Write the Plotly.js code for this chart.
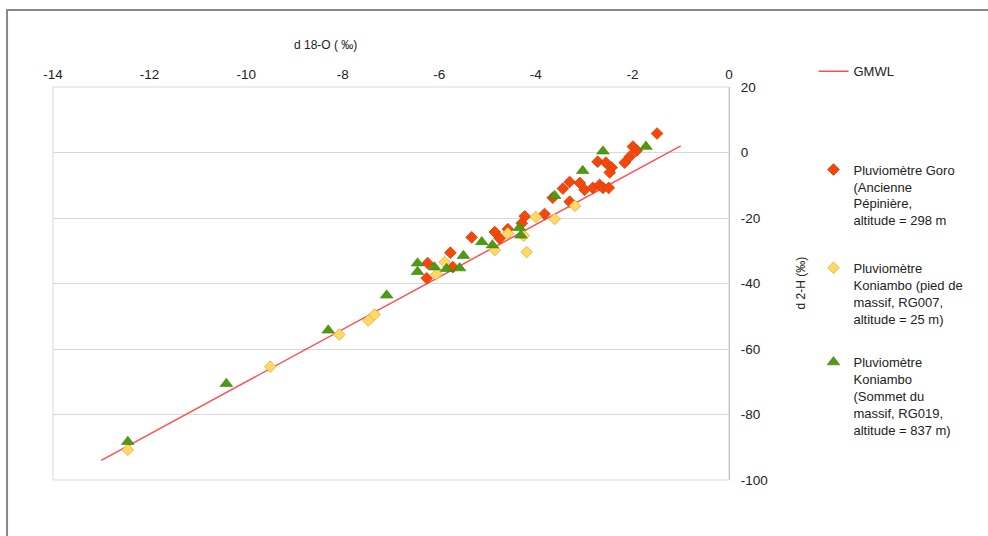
<!DOCTYPE html>
<html>
<head>
<meta charset="utf-8">
<script src="https://cdn.plot.ly/plotly-3.0.1.min.js"></script>
<style>
html,body{margin:0;padding:0;background:#fff;}
#chart{width:988px;height:536px;}
</style>
</head>
<body>
<div id="chart"></div>
<script>
// GMWL (Global Meteoric Water Line) end points
const gmwlX = [-13, -1];
const gmwlY = [-94, 2];

// Pluviomètre Goro (Ancienne Pépinière)
const goroX = [-6.26, -6.24, -5.77, -5.72, -5.33, -4.85, -4.75, -4.58, -4.29, -4.23, -3.82,
  -3.65, -3.30, -3.44, -3.30, -3.09, -2.99, -2.82, -2.68, -2.61, -2.49,
  -2.72, -2.55, -2.43, -2.47, -2.16, -2.05, -1.99, -1.91, -1.49];
const goroY = [-38.4, -33.8, -30.6, -35.0, -25.9, -24.3, -26.2, -23.4, -21.6, -19.5, -18.8,
  -13.8, -15.0, -11.0, -9.0, -9.3, -11.4, -10.8, -9.9, -10.8, -10.8,
  -2.8, -3.1, -4.6, -6.1, -3.1, -1.2, 1.8, 0.6, 5.8];

// Pluviomètre Koniambo (pied de massif, RG007)
const piedX = [-12.45, -9.5, -8.07, -7.47, -7.34, -6.06, -5.89, -4.85, -4.58, -4.25, -4.19, -4.0, -3.61, -3.19];
const piedY = [-90.8, -65.4, -55.6, -51.3, -49.5, -37.2, -33.5, -29.8, -24.7, -25.4, -30.4, -19.7, -20.3, -16.3];

// Pluviomètre Koniambo (Sommet du massif, RG019)
const sommetX = [-12.45, -10.41, -8.3, -7.09, -6.45, -6.45, -6.1, -5.85, -5.58, -5.5, -5.12, -4.9, -4.34, -4.31, -3.61, -3.03, -2.61, -1.72];
const sommetY = [-88.3, -70.6, -54.3, -43.6, -33.8, -36.4, -35, -35.5, -35.3, -31.5, -27.3, -28.3, -23, -25.3, -13.2, -5.6, 0.4, 1.8];

const xTickVals = [-14, -12, -10, -8, -6, -4, -2, 0];
const xTickText = ['-14', '-12', '-10', '-8', '-6', '-4', '-2', '0'];
const yTickVals = [-100, -80, -60, -40, -20, 0, 20];
const yTickText = ['-100', '-80', '-60', '-40', '-20', '0', '20'];

const names = {
  gmwl: 'GMWL',
  goro: 'Pluviomètre Goro<br>(Ancienne<br>Pépinière,<br>altitude = 298 m',
  pied: 'Pluviomètre<br>Koniambo (pied de<br>massif, RG007,<br>altitude = 25 m)',
  sommet: 'Pluviomètre<br>Koniambo<br>(Sommet du<br>massif, RG019,<br>altitude = 837 m)'
};

const FONT = 'Liberation Sans, Arial, sans-serif';

const traces = [
  {x: gmwlX, y: gmwlY, mode: 'lines', name: names.gmwl, legend: 'legend',
   line: {color: '#ff5050', width: 1.5}},
  {x: goroX, y: goroY, mode: 'markers', name: names.goro, legend: 'legend2',
   marker: {symbol: 'diamond', size: 9, color: '#f5470a', line: {color: '#c9400f', width: 0.8}}},
  {x: piedX, y: piedY, mode: 'markers', name: names.pied, legend: 'legend3',
   marker: {symbol: 'diamond', size: 9, color: '#ffd866', line: {color: '#e0b040', width: 0.8}}},
  {x: sommetX, y: sommetY, mode: 'markers', name: names.sommet, legend: 'legend4',
   marker: {symbol: 'triangle-up', size: 11, color: '#4e9a12', line: {color: '#3f7f0c', width: 0.6}}}
];

const legendBase = {
  font: {family: FONT, size: 13, color: '#222'},
  bgcolor: 'rgba(0,0,0,0)', xanchor: 'left', yanchor: 'top',
  valign: 'top', tracegroupgap: 0
};

const layout = {
  width: 988, height: 536,
  margin: {l: 53, r: 259, t: 87, b: 56},
  paper_bgcolor: '#ffffff', plot_bgcolor: '#ffffff',
  font: {family: FONT, size: 13, color: '#222'},
  showlegend: true,
  legend: Object.assign({}, legendBase, {x: 1.125, y: 1.078}),
  legend2: Object.assign({}, legendBase, {x: 1.125, y: 0.828}),
  legend3: Object.assign({}, legendBase, {x: 1.125, y: 0.578}),
  legend4: Object.assign({}, legendBase, {x: 1.125, y: 0.338}),
  xaxis: {
    range: [-14, 0], side: 'top', tickvals: xTickVals, ticktext: xTickText, ticks: '',
    showgrid: false, zeroline: false, showline: false,
    tickfont: {family: FONT, size: 13.5, color: '#222'}, ticklabelstandoff: 4
  },
  xaxis2: {
    range: [-14, 0], overlaying: 'x', anchor: 'free', position: 100 / 120,
    tickvals: xTickVals, ticks: 'outside', ticklen: 4, tickcolor: '#bfbfbf',
    showticklabels: false, showgrid: false, zeroline: false,
    showline: true, linecolor: '#bfbfbf', linewidth: 1
  },
  yaxis: {
    range: [-100, 20], side: 'right', tickvals: yTickVals, ticktext: yTickText, ticks: '',
    showgrid: true, gridcolor: '#d9d9d9', gridwidth: 1, zeroline: false,
    showline: true, linecolor: '#bfbfbf', linewidth: 1,
    tickfont: {family: FONT, size: 13.5, color: '#222'}, ticklabelstandoff: 8
  },
  shapes: [
    {type: 'rect', xref: 'paper', yref: 'paper', x0: 0, x1: 1, y0: 0, y1: 1,
     line: {color: '#d9d9d9', width: 1}, layer: 'below'},
    {type: 'rect', xref: 'paper', yref: 'paper', x0: -0.068, x1: 1.45, y0: -0.2, y1: 1.196,
     line: {color: '#888888', width: 2}, layer: 'below'}
  ],
  annotations: [
    {text: 'd 18-O ( ‰)', xref: 'paper', yref: 'paper', x: (325 - 53) / 676, y: (480 - 45) / 393,
     showarrow: false, xanchor: 'center', yanchor: 'middle',
     font: {family: FONT, size: 12, color: '#222'}},
    {text: 'd 2-H (‰)', xref: 'paper', yref: 'paper', x: (800 - 53) / 676, y: 0.5,
     showarrow: false, textangle: -90, xanchor: 'center', yanchor: 'middle',
     font: {family: FONT, size: 12, color: '#222'}}
  ]
};

Plotly.newPlot('chart', traces, layout, {displayModeBar: false, staticPlot: true});
</script>
</body>
</html>
